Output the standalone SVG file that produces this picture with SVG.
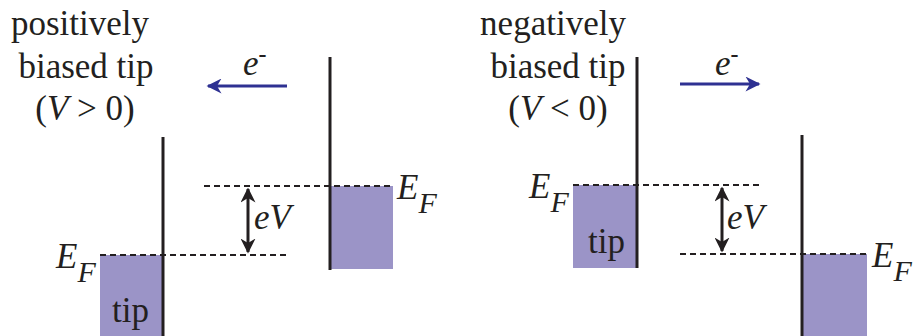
<svg xmlns="http://www.w3.org/2000/svg" width="913" height="336" viewBox="0 0 913 336">
<style>
.t{font-family:"Liberation Serif","Times New Roman",serif;font-size:35px;fill:#231f20}
.i{font-style:italic}
.s{font-size:30px}
.m{font-style:normal;font-size:24px;font-weight:bold}
.band{fill:#9b94c7}
.wall{stroke:#231f20;stroke-width:3;fill:none}
.dash{stroke:#231f20;stroke-width:2;stroke-dasharray:6 4;fill:none}
.ev{stroke:#231f20;stroke-width:3;fill:none}
.el{stroke:#2e3192;stroke-width:3;fill:none}
</style>
<defs>
<marker id="ah" viewBox="0 0 10 10" refX="9" refY="5" markerWidth="5" markerHeight="5" orient="auto-start-reverse" markerUnits="strokeWidth">
<path d="M0,0 L10,5 L0,10 L3,5 Z" fill="#231f20"/>
</marker>
<marker id="bh" viewBox="0 0 10 10" refX="9" refY="5" markerWidth="6" markerHeight="5" orient="auto" markerUnits="strokeWidth">
<path d="M0,0 L10,5 L0,10 L3,5 Z" fill="#2e3192"/>
</marker>
</defs>

<g id="left-title">
<text class="t" x="80" y="35" text-anchor="middle">positively</text>
<text class="t" x="86" y="78" text-anchor="middle">biased tip</text>
<text class="t" x="85" y="120" text-anchor="middle">(<tspan class="i">V</tspan> &gt; 0)</text>
</g>

<g id="left-tip">
<rect class="band" x="100" y="255" width="63" height="81"/>
<line class="wall" x1="163" y1="137" x2="163" y2="336"/>
<text class="t" x="112" y="322">tip</text>
<text class="t i" x="56" y="268">E<tspan class="s" dy="14">F</tspan></text>
</g>

<g id="left-sample">
<rect class="band" x="330" y="186" width="63" height="83"/>
<line class="wall" x1="330" y1="57" x2="330" y2="270"/>
<text class="t i" x="397" y="199">E<tspan class="s" dy="14">F</tspan></text>
</g>

<g id="left-connectors">
<line class="dash" x1="100" y1="255" x2="288" y2="255"/>
<line class="dash" x1="204" y1="186" x2="393" y2="186"/>
<line class="ev" x1="248" y1="189" x2="248" y2="252" marker-start="url(#ah)" marker-end="url(#ah)"/>
<line class="el" x1="287" y1="86" x2="208" y2="86" marker-end="url(#bh)"/>
</g>
<text class="t i" x="254" y="229">eV</text>
<text class="t i" x="243" y="75">e<tspan class="m" dy="-13">-</tspan></text>

<g id="right-title">
<text class="t" x="553" y="35" text-anchor="middle">negatively</text>
<text class="t" x="558" y="78" text-anchor="middle">biased tip</text>
<text class="t" x="558" y="120" text-anchor="middle">(<tspan class="i">V</tspan> &lt; 0)</text>
</g>

<g id="right-tip">
<rect class="band" x="573" y="185" width="64" height="83"/>
<line class="wall" x1="637" y1="57" x2="637" y2="268"/>
<text class="t" x="588" y="253">tip</text>
<text class="t i" x="529" y="198">E<tspan class="s" dy="14">F</tspan></text>
</g>

<g id="right-sample">
<rect class="band" x="802" y="254" width="65" height="82"/>
<line class="wall" x1="802" y1="135" x2="802" y2="336"/>
<text class="t i" x="872" y="267">E<tspan class="s" dy="14">F</tspan></text>
</g>

<g id="right-connectors">
<line class="dash" x1="573" y1="185" x2="763" y2="185"/>
<line class="dash" x1="680" y1="254" x2="867" y2="254"/>
<line class="ev" x1="722" y1="188" x2="722" y2="251" marker-start="url(#ah)" marker-end="url(#ah)"/>
<line class="el" x1="680" y1="84" x2="759" y2="84" marker-end="url(#bh)"/>
</g>
<text class="t i" x="727" y="229">eV</text>
<text class="t i" x="715" y="75">e<tspan class="m" dy="-13">-</tspan></text>
</svg>
